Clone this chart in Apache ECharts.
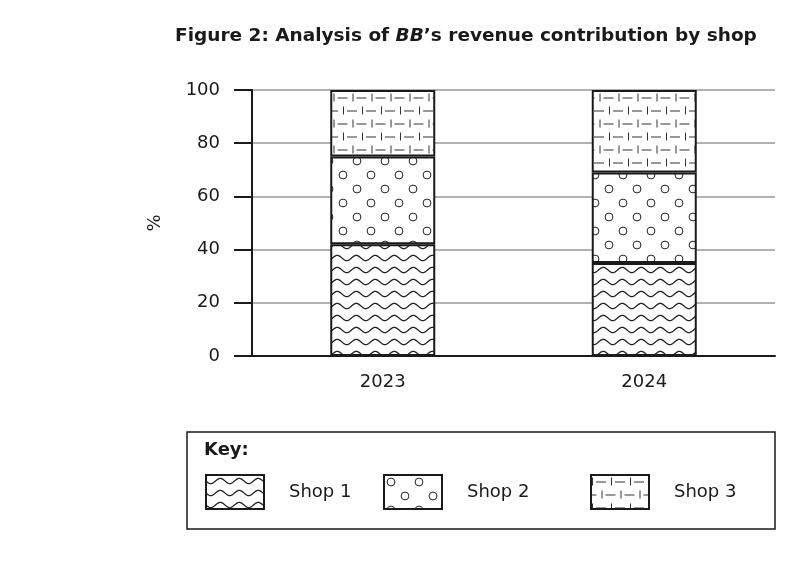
<!DOCTYPE html>
<html>
<head>
<meta charset="utf-8">
<script src="https://cdn.jsdelivr.net/npm/echarts@6/dist/echarts.min.js"></script>
<style>
  html, body { margin: 0; padding: 0; background: #fff; }
  #main { width: 798px; height: 563px; }
</style>
</head>
<body>
<div id="main"></div>
<script>
var years = ['2023', '2024'];
var shops = ['Shop 1', 'Shop 2', 'Shop 3'];
var shop1 = [42, 35];
var shop2 = [33, 34];
var shop3 = [25, 31];
var yTicks = [0, 20, 40, 60, 80, 100];

// pattern tiles
function waveTile() {
  var c = document.createElement('canvas');
  c.width = 19; c.height = 12;
  var g = c.getContext('2d');
  g.fillStyle = '#fff'; g.fillRect(0, 0, 19, 12);
  g.strokeStyle = '#222'; g.lineWidth = 1.3;
  g.beginPath();
  for (var x = -1; x <= 20; x += 0.5) {
    var y = 6 + 2.6 * Math.sin(2 * Math.PI * x / 19);
    if (x === -1) g.moveTo(x, y); else g.lineTo(x, y);
  }
  g.stroke();
  return c;
}
function circleTile() {
  var c = document.createElement('canvas');
  c.width = 28; c.height = 28;
  var g = c.getContext('2d');
  g.fillStyle = '#fff'; g.fillRect(0, 0, 28, 28);
  g.strokeStyle = '#222'; g.lineWidth = 1;
  [[7, 7], [21, 21]].forEach(function (p) {
    g.beginPath(); g.arc(p[0], p[1], 3.9, 0, Math.PI * 2); g.stroke();
  });
  return c;
}
function brickTile() {
  var c = document.createElement('canvas');
  c.width = 19; c.height = 26;
  var g = c.getContext('2d');
  g.fillStyle = '#fff'; g.fillRect(0, 0, 19, 26);
  g.strokeStyle = '#333'; g.lineWidth = 1;
  function row(y, off) {
    for (var k = -1; k <= 1; k++) {
      var x0 = off + k * 19;
      g.beginPath(); g.moveTo(x0 + 1.5, y - 4); g.lineTo(x0 + 1.5, y + 4); g.stroke();
      g.beginPath(); g.moveTo(x0 + 5, y + 0.5); g.lineTo(x0 + 15, y + 0.5); g.stroke();
    }
  }
  row(6.5, 0);
  row(19.5, 9.5);
  return c;
}

var font = '"DejaVu Sans", sans-serif';
var chart = echarts.init(document.getElementById('main'));

function barSeries(name, data, tile) {
  return {
    name: name,
    type: 'bar',
    stack: 'total',
    barWidth: 105,
    data: data,
    itemStyle: {
      color: { image: tile, repeat: 'repeat' },
      borderColor: '#1a1a1a',
      borderWidth: 2
    },
    emphasis: { disabled: true }
  };
}

// one legend per key entry so spacing can follow the reference
var legendLeft = [200, 378, 585];
var legends = shops.map(function (s, i) {
  return {
    left: legendLeft[i],
    top: 469,
    itemWidth: 58,
    itemHeight: 34,
    icon: 'rect',
    selectedMode: false,
    textStyle: { fontFamily: font, fontSize: 18, color: '#1a1a1a', padding: [0, 0, 0, 20] },
    data: [s]
  };
});

var option = {
  animation: false,
  backgroundColor: '#fff',
  title: {
    left: 170,
    top: 22,
    text: '{b|Figure 2: Analysis of }{i|BB}{b|\u2019s revenue contribution by shop}',
    textStyle: {
      rich: {
        b: { fontFamily: font, fontSize: 18.5, fontWeight: 'bold', color: '#1a1a1a' },
        i: { fontFamily: font, fontSize: 18.5, fontWeight: 'bold', fontStyle: 'italic', color: '#1a1a1a' }
      }
    }
  },
  grid: { left: 252, right: 23, top: 90, bottom: 207 },
  xAxis: {
    type: 'category',
    data: years,
    axisLine: { lineStyle: { color: '#1a1a1a', width: 2 } },
    axisTick: { show: false },
    axisLabel: { margin: 17, fontFamily: font, fontSize: 18, color: '#1a1a1a' }
  },
  yAxis: {
    type: 'value',
    min: yTicks[0],
    max: yTicks[yTicks.length - 1],
    interval: 20,
    name: '%',
    nameLocation: 'middle',
    nameRotate: 90,
    nameGap: 88,
    nameTextStyle: { fontFamily: font, fontSize: 18, color: '#1a1a1a' },
    axisLine: { show: true, lineStyle: { color: '#1a1a1a', width: 2 } },
    axisTick: { show: true, length: 18, inside: false, lineStyle: { color: '#1a1a1a', width: 2 } },
    axisLabel: { margin: 32, fontFamily: font, fontSize: 18, color: '#1a1a1a' },
    splitLine: { show: true, lineStyle: { color: '#999', width: 1.5 } }
  },
  legend: legends,
  graphic: [
    {
      type: 'rect',
      shape: { x: 187, y: 432, width: 588, height: 97 },
      style: { fill: 'none', stroke: '#1a1a1a', lineWidth: 1.5 }
    },
    {
      type: 'text',
      left: 204,
      top: 441,
      style: { text: 'Key:', font: 'bold 18px ' + font, fill: '#1a1a1a' }
    }
  ],
  series: [
    barSeries(shops[0], shop1, waveTile()),
    barSeries(shops[1], shop2, circleTile()),
    barSeries(shops[2], shop3, brickTile())
  ]
};
chart.setOption(option);
</script>
</body>
</html>
